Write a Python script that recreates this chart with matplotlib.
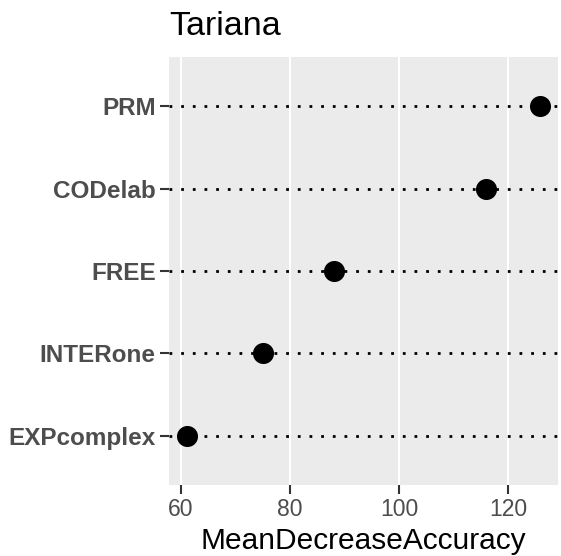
import matplotlib.pyplot as plt
import numpy as np

plt.rcParams['font.family'] = ['Liberation Sans', 'DejaVu Sans']

# Variablen-Wichtigkeit
variablen = ["EXPcomplex", "INTERone", "FREE", "CODelab", "PRM"]
werte = [61.1, 75.0, 88.1, 116.0, 125.9]
ticks = [60, 80, 100, 120]

fig = plt.figure(figsize=(5.61, 5.56), dpi=100)
ax = fig.add_axes([169/561, 1-485/556, 389/561, 428/556])
ax.set_facecolor("#EBEBEB")

ypos = np.arange(len(variablen))

# vertikale Gitterlinien
for t in ticks:
    ax.axvline(t, color="white", lw=1.5, zorder=0)

# gepunktete Linien pro Kategorie
for y in ypos:
    ax.axhline(y, color="black", lw=2.0, dashes=(1, 3.2), dash_capstyle="butt", zorder=1)

ax.scatter(werte, ypos, s=230, color="black", zorder=3, linewidths=0)

rng = max(werte) - min(werte)
ax.set_xlim(min(werte) - 0.05*rng, max(werte) + 0.05*rng)
ax.set_ylim(-0.6, len(variablen) - 0.4)

ax.set_xticks(ticks)
ax.set_xticklabels([str(t) for t in ticks])
ax.set_yticks(ypos)
ax.set_yticklabels(variablen, fontweight="bold")

ax.tick_params(axis="x", colors="#333333", labelcolor="#4D4D4D", labelsize=16.5, length=6.5, width=1.5, pad=3)
ax.tick_params(axis="y", colors="#333333", labelcolor="#4D4D4D", labelsize=17.5, length=6.5, width=1.5, pad=3)
for s in ax.spines.values():
    s.set_visible(False)

ax.set_xlabel("MeanDecreaseAccuracy", fontsize=21.5, labelpad=4)
ax.set_title("Tariana", fontsize=24.5, loc="left", pad=16)

fig.savefig("out.png", dpi=100)
